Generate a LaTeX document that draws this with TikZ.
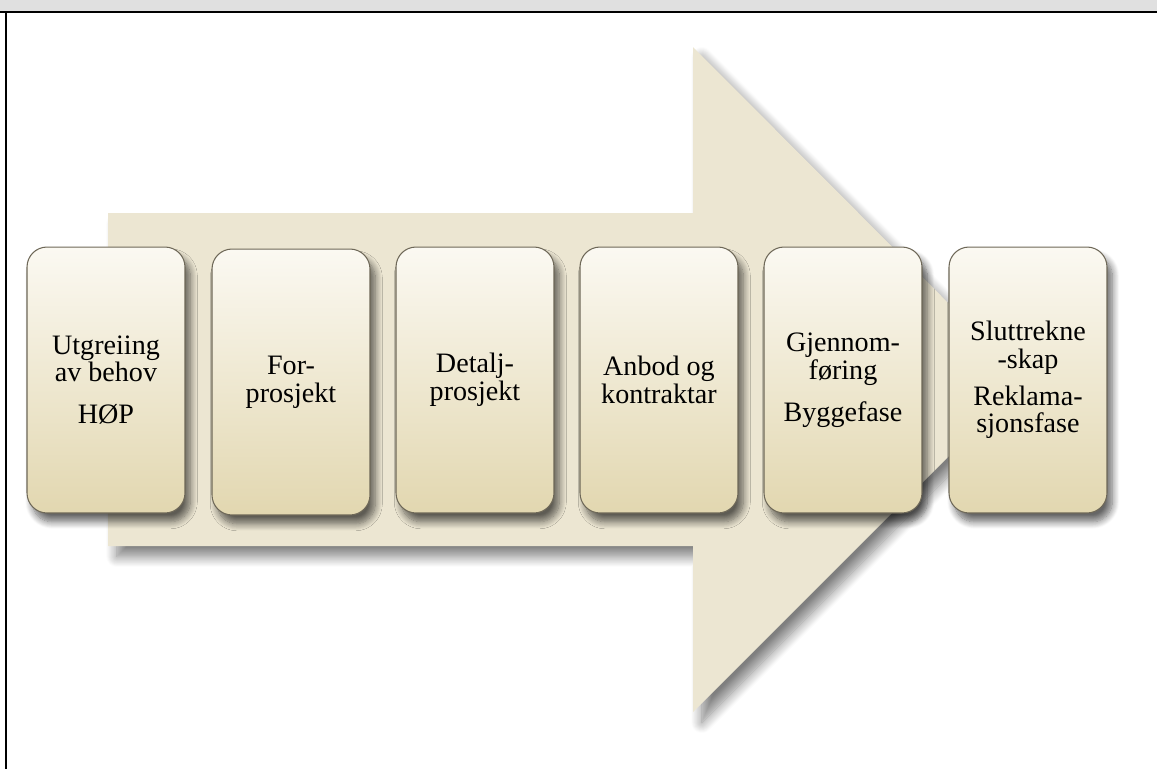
\documentclass[tikz,border=0pt]{standalone}
\usepackage{fontspec}
\setmainfont{Liberation Serif}
\usepackage{xcolor}
\usepackage{tikz}
\usetikzlibrary{shadows.blur}

\definecolor{arrowfill}{RGB}{236,230,210}
\definecolor{boxtop}{RGB}{251,249,242}
\definecolor{boxmid}{RGB}{239,233,213}
\definecolor{boxbot}{RGB}{226,215,176}
\definecolor{boxedge}{RGB}{110,104,88}
\definecolor{barfill}{RGB}{224,224,224}

\tikzset{
  phase/.style={rectangle, rounded corners=0.4cm, draw=boxedge, line width=0.6pt,
    minimum width=3.16cm, minimum height=5.32cm, align=center,
    top color=boxtop, middle color=boxmid, bottom color=boxbot,
    font=\fontsize{16}{15.8}\selectfont,
    blur shadow={shadow xshift=3pt, shadow yshift=-5pt, shadow opacity=60,
      shadow blur radius=4pt, shadow blur steps=10}},
  bigarrow/.style={fill=arrowfill,
    blur shadow={shadow xshift=5pt, shadow yshift=-6pt, shadow opacity=50,
      shadow blur radius=6pt, shadow blur steps=12}}
}

\begin{document}
\begin{tikzpicture}[x=0.02cm, y=-0.02cm]
            \useasboundingbox (0,0) rectangle (1157,769);
            % frame
            \fill[barfill] (0,0) rectangle (1157,12);
            \draw[line width=1.2pt] (0,12) -- (1157,12);
            \draw[line width=1.2pt] (6,12) -- (6,769);
            % arrow
            \path[bigarrow] (108,213) -- (693,213) -- (693,47) -- (1025,380)
                -- (693,712) -- (693,546) -- (108,546) -- cycle;
            % phases
            \node[phase](a) at (106,380) {Utgreiing\\av behov\\[8pt]HØP};
            \node[phase](b) at (291,382) {For-\\prosjekt};
            \node[phase](c) at (475,380) {Detalj-\\prosjekt};
            \node[phase](d) at (659,380) {Anbod og\\kontraktar};
            \node[phase](e) at (843,380) {Gjennom-\\føring\\[8pt]Byggefase};
            \node[phase](f) at (1028,380) {Sluttrekne\\-skap\\[5pt]Reklama-\\sjonsfase};
        \end{tikzpicture}
\end{document}
